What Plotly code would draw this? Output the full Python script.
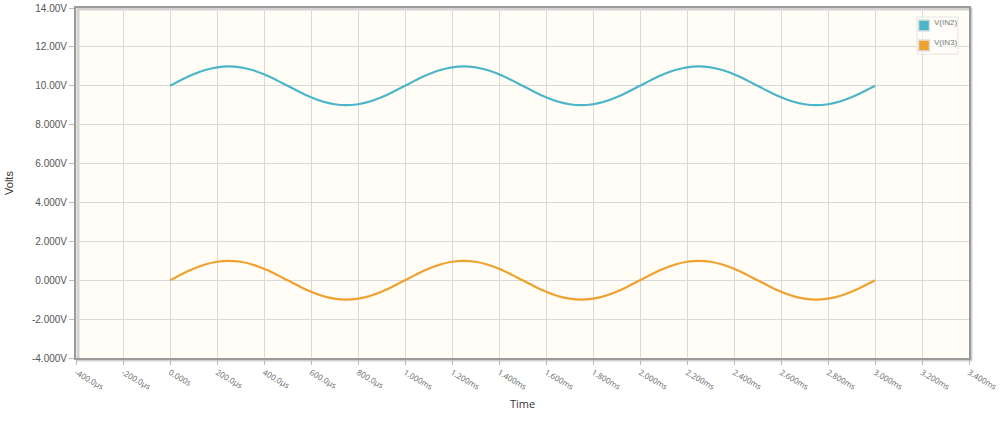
import plotly.graph_objects as go

# time in milliseconds
time_ms = [0.00, 0.05, 0.10, 0.15, 0.20, 0.25, 0.30, 0.35, 0.40, 0.45,
           0.50, 0.55, 0.60, 0.65, 0.70, 0.75, 0.80, 0.85, 0.90, 0.95,
           1.00, 1.05, 1.10, 1.15, 1.20, 1.25, 1.30, 1.35, 1.40, 1.45,
           1.50, 1.55, 1.60, 1.65, 1.70, 1.75, 1.80, 1.85, 1.90, 1.95,
           2.00, 2.05, 2.10, 2.15, 2.20, 2.25, 2.30, 2.35, 2.40, 2.45,
           2.50, 2.55, 2.60, 2.65, 2.70, 2.75, 2.80, 2.85, 2.90, 2.95,
           3.00]

v_in2 = [10.00, 10.31, 10.59, 10.81, 10.95, 11.00, 10.95, 10.81, 10.59, 10.31,
         10.00, 9.69, 9.41, 9.19, 9.05, 9.00, 9.05, 9.19, 9.41, 9.69,
         10.00, 10.31, 10.59, 10.81, 10.95, 11.00, 10.95, 10.81, 10.59, 10.31,
         10.00, 9.69, 9.41, 9.19, 9.05, 9.00, 9.05, 9.19, 9.41, 9.69,
         10.00, 10.31, 10.59, 10.81, 10.95, 11.00, 10.95, 10.81, 10.59, 10.31,
         10.00, 9.69, 9.41, 9.19, 9.05, 9.00, 9.05, 9.19, 9.41, 9.69,
         10.00]

v_in3 = [0.00, 0.31, 0.59, 0.81, 0.95, 1.00, 0.95, 0.81, 0.59, 0.31,
         0.00, -0.31, -0.59, -0.81, -0.95, -1.00, -0.95, -0.81, -0.59, -0.31,
         0.00, 0.31, 0.59, 0.81, 0.95, 1.00, 0.95, 0.81, 0.59, 0.31,
         0.00, -0.31, -0.59, -0.81, -0.95, -1.00, -0.95, -0.81, -0.59, -0.31,
         0.00, 0.31, 0.59, 0.81, 0.95, 1.00, 0.95, 0.81, 0.59, 0.31,
         0.00, -0.31, -0.59, -0.81, -0.95, -1.00, -0.95, -0.81, -0.59, -0.31,
         0.00]

x_tick_vals = [-0.4, -0.2, 0.0, 0.2, 0.4, 0.6, 0.8, 1.0, 1.2, 1.4, 1.6, 1.8,
               2.0, 2.2, 2.4, 2.6, 2.8, 3.0, 3.2, 3.4]
x_tick_text = ["-400.0µs", "-200.0µs", "0.000s", "200.0µs", "400.0µs", "600.0µs",
               "800.0µs", "1.000ms", "1.200ms", "1.400ms", "1.600ms", "1.800ms",
               "2.000ms", "2.200ms", "2.400ms", "2.600ms", "2.800ms", "3.000ms",
               "3.200ms", "3.400ms"]
y_tick_vals = [14, 12, 10, 8, 6, 4, 2, 0, -2, -4]
y_tick_text = ["14.00V", "12.00V", "10.00V", "8.000V", "6.000V", "4.000V",
               "2.000V", "0.000V", "-2.000V", "-4.000V"]

series_names = ["V(IN2)", "V(IN3)"]
series_colors = ["#4bb6c7", "#f0a02c"]

W, H = 1000, 422
L, R, T, B = 76, 31, 8, 64
PW, PH = W - L - R, H - T - B


def px_x(px):
    return (px - L) / PW


def px_y(py):
    return (H - B - py) / PH


fig = go.Figure()
for name, vals, col in zip(series_names, [v_in2, v_in3], series_colors):
    fig.add_trace(go.Scatter(x=time_ms, y=vals, mode="lines", name=name,
                             line=dict(color=col, width=2.2, shape="spline"),
                             showlegend=False, hoverinfo="skip"))

shapes = []
# shadow of plot frame
shapes.append(dict(type="rect", xref="paper", yref="paper", x0=px_x(78), y0=px_y(360),
                   x1=px_x(971), y1=px_y(9), line=dict(color="#d2d2d2", width=3),
                   layer="below"))
# legend box
shapes.append(dict(type="rect", xref="paper", yref="paper", x0=px_x(917), y0=px_y(54),
                   x1=px_x(958), y1=px_y(17), line=dict(color="#e4e4e4", width=1),
                   fillcolor="rgba(255,255,255,0.5)", layer="above"))
annotations = []
for i, (name, col) in enumerate(zip(series_names, series_colors)):
    top = 21 + i * 20
    shapes.append(dict(type="rect", xref="paper", yref="paper",
                       x0=px_x(918.5), x1=px_x(929.5), y0=px_y(top + 10), y1=px_y(top - 1),
                       line=dict(color="#e0e0e0", width=1.5), fillcolor=col, layer="above"))
    annotations.append(dict(xref="paper", yref="paper", x=px_x(931.5), y=px_y(top + 2),
                            text=name, showarrow=False, xanchor="left", yanchor="middle",
                            font=dict(family="Liberation Sans, Arial", size=8, color="#777")))

fig.update_layout(
    width=W, height=H,
    margin=dict(l=L, r=R, t=T, b=B),
    paper_bgcolor="white",
    plot_bgcolor="#fffdf6",
    font=dict(family="Liberation Sans, Arial", color="#555"),
    showlegend=False,
    shapes=shapes,
    annotations=annotations,
)
fig.update_xaxes(range=[-0.4, 3.4], tickmode="array", tickvals=x_tick_vals,
                 ticktext=x_tick_text, tickangle=30, automargin=False,
                 tickfont=dict(family="Open Sans, Noto Sans", size=8, color="#666"),
                 showgrid=True, gridcolor="#d9d9d9", gridwidth=1,
                 showline=True, linecolor="#9a9a9a", linewidth=2, mirror=True,
                 ticks="outside", ticklen=5, tickcolor="#bbbbbb",
                 zeroline=False,
                 title=dict(text="Time", font=dict(family="Open Sans", size=11, color="#333"),
                            standoff=10))
fig.update_yaxes(range=[-4, 14], tickmode="array", tickvals=y_tick_vals,
                 ticktext=y_tick_text, automargin=False,
                 tickfont=dict(family="Liberation Sans, Arial", size=10, color="#555"),
                 showgrid=True, gridcolor="#d9d9d9", gridwidth=1,
                 showline=True, linecolor="#9a9a9a", linewidth=2, mirror=True,
                 ticks="outside", ticklen=5, tickcolor="#bbbbbb",
                 zeroline=False,
                 title=dict(text="Volts", font=dict(family="Liberation Sans", size=11, color="#333"),
                            standoff=16))

fig.write_html("out.html")
